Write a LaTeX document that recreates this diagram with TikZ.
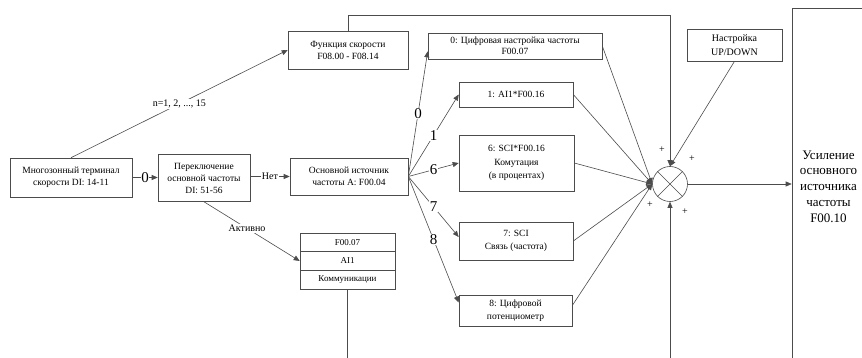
\documentclass[tikz,border=0pt]{standalone}
\usepackage{fontspec}
\setmainfont{Liberation Serif}
\usetikzlibrary{arrows.meta,calc}
\begin{document}
\begin{tikzpicture}[x=1pt,y=-1pt,
  box/.style={draw=black!70,line width=0.6pt,fill=white,align=center,font=\fontsize{9.5}{12}\selectfont,inner sep=1pt},
  conn/.style={draw=black!70,line width=0.6pt},
  arr/.style={conn,-{Triangle[length=6pt,width=5pt]}},
  bignum/.style={fill=white,inner sep=0.5pt,font=\fontsize{15}{15}\selectfont},
  lbl/.style={fill=white,inner sep=1pt,font=\fontsize{10}{11}\selectfont},
  plus/.style={font=\fontsize{10}{10}\selectfont,inner sep=0pt}
]
\useasboundingbox (0,0) rectangle (862,358);
\clip (0,0) rectangle (862,358);
\fill[white] (0,0) rectangle (862,358);

% nodes
\node[box,minimum width=122pt,minimum height=39pt] (term) at (71,177.5) {Многозонный терминал\\скорости DI: 14-11};
\node[box,minimum width=92pt,minimum height=47pt] (sw) at (204,178) {Переключение\\основной частоты\\DI: 51-56};
\node[box,minimum width=118pt,minimum height=37pt] (src) at (349,176.5) {Основной источник\\частоты A: F00.04};
\node[box,minimum width=120pt,minimum height=38pt] (func) at (348,50) {Функция скорости\\F08.00 - F08.14};
\node[box,minimum width=174pt,minimum height=26pt,font=\fontsize{9.5}{10.5}\selectfont] (b0) at (515,46) {0: Цифровая настройка частоты\\F00.07};
\node[box,minimum width=114pt,minimum height=25pt] (b1) at (516,94.5) {1: AI1*F00.16};
\node[box,minimum width=115pt,minimum height=56pt,font=\fontsize{9.5}{13.5}\selectfont] (b6) at (516.5,163) {6: SCI*F00.16\\Комутация\\(в процентах)};
\node[box,minimum width=114pt,minimum height=38pt,font=\fontsize{9.5}{13.5}\selectfont] (b7) at (516,241) {7: SCI\\Связь (частота)};
\node[box,minimum width=113pt,minimum height=31pt,font=\fontsize{9.5}{13.5}\selectfont] (b8) at (515.5,310.5) {8: Цифровой\\потенциометр};
\node[box,minimum width=95pt,minimum height=18.7pt,font=\fontsize{9}{11}\selectfont] (t1) at (347.5,242.3) {F00.07};
\node[box,minimum width=95pt,minimum height=18.7pt,font=\fontsize{9}{11}\selectfont] (t2) at (347.5,261) {AI1};
\node[box,minimum width=95pt,minimum height=18.7pt,font=\fontsize{9}{11}\selectfont] (t3) at (347.5,279.7) {Коммуникации};
\node[draw=black!70,line width=0.6pt,circle,minimum size=35pt,inner sep=0pt] (sum) at (670,184) {};
\node[box,minimum width=95pt,minimum height=32pt,font=\fontsize{10}{14}\selectfont] (ud) at (734.5,45) {Настройка\\UP/DOWN};
\node[box,minimum width=73pt,minimum height=357pt,font=\fontsize{13}{15.7}\selectfont] (big) at (828.5,186.5) {Усиление\\основного\\источника\\частоты\\F00.10};

\coordinate (bot) at (670,365);
\coordinate (tbot) at (347.5,365);

% connectors
\draw[arr] (term.north) -- node[lbl]{n=1, 2, ..., 15} (func.west);
\draw[arr] (term.east) -- node[bignum]{0} (term.east -| sw.west);
\draw[arr] (sw.east |- src.west) -- node[lbl]{Нет} (src.west);
\draw[arr] (sw.south) -- node[lbl,pos=0.45]{Активно} (t2.west);

\draw[arr] (src.east) -- node[bignum]{0} ($(b0.south west)!0.3!(b0.north west)$);
\draw[arr] (src.east) -- node[bignum]{1} (b1.west);
\draw[arr] (src.east) -- node[bignum]{6} (b6.west);
\draw[arr] (src.east) -- node[bignum]{7} ($(b7.west)+(0,-4)$);
\draw[arr] (src.east) -- node[bignum]{8} ($(b8.west)+(0,-8)$);

\draw[arr] (b0.east) -- (sum.west);
\draw[arr] (b1.east) -- (sum.west);
\draw[arr] (b6.east) -- (sum.west);
\draw[arr] (b7.east) -- (sum.west);
\draw[arr] ($(b8.east)+(0,-5)$) -- (sum.west);

\draw[arr] (func.north) -- ++(0,-15) -| (sum.north);
\draw[arr] (ud.south) -- (sum.north);
\draw[arr] (bot) -- (sum.south);
\draw[conn] (t3.south) -- (tbot);
\draw[arr] (sum.east) -- (sum.east -| big.west);
\draw[conn] (sum.north east) -- (sum.south west) (sum.north west) -- (sum.south east);

\node[plus] (p1) at (662,150) {+};
\node[plus] (p2) at (692,159) {+};
\node[plus] (p3) at (650,205) {+};
\node[plus] (p4) at (685,212) {+};
\end{tikzpicture}
\end{document}
